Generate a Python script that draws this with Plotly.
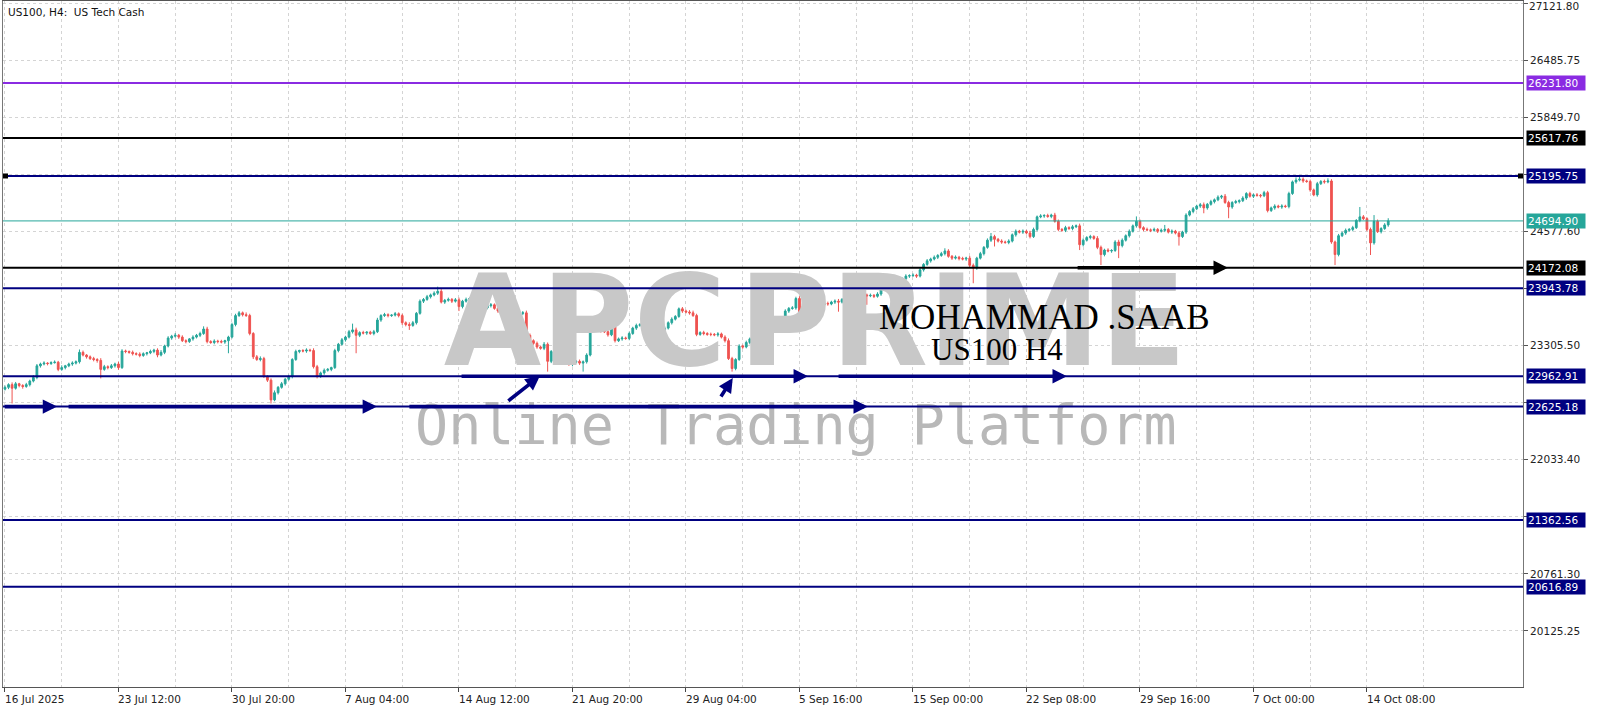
import plotly.graph_objects as go

# ---------------- data (H4 bars) ----------------
first_open = 22820
closes = [
    22840, 22870, 22830, 22880, 22860, 22850, 22870, 22910, 22950, 23080,
    23100, 23110, 23105, 23115, 23120, 23040, 23060, 23080, 23100, 23110,
    23125, 23230, 23200, 23180, 23160, 23150, 23140, 23040, 23070, 23060,
    23080, 23100, 23060, 23245, 23240, 23230, 23215, 23210, 23195, 23215,
    23225, 23240, 23255, 23200, 23230, 23300, 23390, 23410, 23420, 23400,
    23360, 23350, 23380, 23400, 23420, 23440, 23490, 23350, 23340, 23355,
    23350, 23345, 23360, 23400, 23540, 23640, 23670, 23650, 23640, 23440,
    23180, 23150, 23160, 22960, 22920, 22700, 22780, 22840, 22880, 22930,
    22960, 23150, 23240, 23250, 23245, 23255, 23250, 23070, 22960, 23000,
    23030, 23040, 23060, 23250, 23320, 23370, 23400, 23460, 23480, 23420,
    23450, 23445, 23455, 23440, 23460, 23590, 23640, 23650, 23640, 23645,
    23660, 23640, 23560, 23540, 23530, 23560, 23665, 23800, 23820, 23850,
    23870, 23890, 23910, 23790, 23810, 23820, 23800, 23815, 23740, 23800,
    23820, 23830, 23840, 23860, 23870, 23725, 23750, 23760, 23720, 23690,
    23700, 23705, 23690, 23670, 23680, 23665, 23670, 23420, 23360, 23330,
    23290, 23275, 23320, 23130, 23240, 23235, 23245, 23230, 23200, 23095,
    23120, 23130, 23110, 23125, 23200, 23510, 23500, 23480, 23470, 23460,
    23425, 23515, 23360, 23380, 23390, 23385, 23440, 23500, 23530, 23540,
    23535, 23530, 23540, 23545, 23465, 23480, 23500, 23560, 23600, 23630,
    23715, 23690, 23680, 23670, 23640, 23430, 23450, 23440, 23430, 23430,
    23425, 23435, 23400, 23360, 23160, 23050, 23150, 23300, 23290, 23340,
    23380, 23400, 23360, 23400, 23430, 23450, 23470, 23480, 23520, 23610,
    23690, 23720, 23725, 23830, 23630, 23720, 23740, 23735, 23745, 23740,
    23760, 23775, 23770, 23790, 23800, 23790, 23820, 23840, 23860, 23875,
    23890, 23930, 23870, 23860, 23865, 23855, 23880, 23960, 23990, 23995,
    23990, 24000, 24005, 24050, 24080, 24085, 24090, 24080, 24150, 24210,
    24250, 24270, 24290, 24310, 24330, 24360, 24300, 24280, 24290, 24275,
    24270, 24280, 24200, 24170, 24280, 24330, 24400, 24480, 24520, 24490,
    24470, 24460, 24455, 24470, 24540, 24580, 24570, 24580, 24560, 24520,
    24600, 24740, 24750, 24755, 24745, 24760, 24690, 24600, 24590, 24620,
    24610, 24630, 24640, 24430, 24480, 24510, 24520, 24500, 24400, 24320,
    24370, 24360, 24365, 24460, 24420, 24480, 24530, 24580, 24640, 24690,
    24620, 24600, 24595, 24590, 24600, 24580, 24590, 24600, 24570, 24580,
    24560, 24520, 24570, 24760, 24800, 24830, 24860, 24875, 24840, 24880,
    24910, 24930, 24960, 24970, 24900, 24850, 24900, 24910, 24920, 24950,
    25000, 24970, 24985, 24980, 24975, 25010, 24810, 24840, 24860, 24850,
    24860, 24855, 25000, 25130, 25150, 25160, 25140, 25135, 25040, 24985,
    25110, 25135, 25130, 25140, 24460, 24320, 24530, 24560, 24590, 24600,
    24620, 24700, 24740, 24720, 24600, 24450, 24690, 24575, 24610, 24650,
    24694.90,
]
wick_up = [
    20, 15, 25, 20, 10, 15, 20, 15, 25, 20,
    15, 20, 10, 15, 20, 15, 25, 10, 15, 20,
    15, 32, 20, 10, 15, 20, 15, 25, 20, 15,
    20, 15, 25, 20, 15, 10, 20, 15, 20, 15,
    10, 20, 15, 20, 25, 15, 20, 15, 25, 15,
    20, 15, 10, 20, 15, 20, 30, 25, 15, 20,
    15, 20, 10, 15, 20, 20, 20, 15, 25, 20,
    15, 20, 25, 20, 15, 20, 25, 15, 20, 15,
    20, 15, 20, 10, 15, 20, 15, 25, 20, 15,
    20, 15, 10, 20, 15, 20, 15, 20, 70, 25,
    15, 20, 10, 15, 20, 25, 15, 20, 15, 10,
    20, 15, 20, 15, 25, 20, 15, 20, 15, 20,
    15, 20, 52, 25, 15, 20, 15, 20, 25, 15,
    20, 15, 20, 15, 20, 25, 15, 20, 15, 20,
    15, 20, 15, 10, 20, 15, 20, 25, 20, 15,
    20, 15, 25, 20, 15, 20, 15, 20, 15, 25,
    20, 15, 20, 15, 20, 25, 15, 20, 15, 20,
    15, 20, 25, 15, 20, 15, 20, 15, 20, 15,
    20, 15, 20, 25, 20, 15, 20, 15, 20, 15,
    15, 20, 15, 20, 25, 20, 15, 20, 15, 20,
    15, 20, 15, 20, 25, 20, 15, 20, 15, 20,
    15, 20, 25, 15, 20, 15, 20, 15, 20, 15,
    20, 15, 20, 20, 25, 15, 20, 15, 20, 15,
    20, 15, 20, 15, 20, 25, 15, 20, 15, 20,
    15, 32, 20, 15, 20, 15, 20, 15, 20, 15,
    20, 15, 20, 15, 20, 15, 20, 15, 20, 15,
    20, 15, 20, 15, 20, 30, 20, 15, 20, 15,
    20, 15, 25, 20, 15, 20, 15, 20, 40, 20,
    15, 20, 15, 20, 15, 20, 15, 20, 15, 25,
    20, 15, 20, 15, 20, 15, 25, 20, 15, 20,
    15, 20, 15, 25, 20, 15, 20, 15, 25, 20,
    15, 20, 15, 20, 25, 20, 15, 20, 15, 55,
    20, 15, 20, 15, 20, 15, 20, 50, 15, 20,
    15, 20, 15, 20, 15, 20, 15, 20, 25, 15,
    20, 15, 20, 15, 25, 20, 15, 20, 15, 20,
    15, 20, 15, 20, 15, 20, 20, 15, 20, 15,
    20, 15, 20, 15, 30, 30, 20, 15, 20, 15,
    20, 15, 20, 30, 20, 15, 20, 15, 20, 15,
    20, 15, 110, 20, 15, 20, 70, 20, 15, 20,
    30,
]
wick_dn = [
    15, 20, 170, 15, 20, 25, 15, 20, 15, 20,
    20, 15, 20, 15, 10, 20, 15, 20, 15, 20,
    15, 20, 15, 20, 15, 20, 25, 100, 15, 20,
    15, 20, 25, 15, 20, 15, 20, 15, 20, 15,
    20, 15, 20, 25, 15, 20, 15, 20, 15, 20,
    15, 20, 15, 20, 15, 20, 15, 20, 15, 20,
    20, 15, 20, 140, 15, 20, 15, 20, 15, 20,
    25, 15, 20, 15, 20, 40, 15, 20, 15, 20,
    15, 20, 15, 20, 15, 20, 15, 20, 20, 15,
    20, 15, 20, 15, 20, 15, 20, 15, 20, 200,
    20, 15, 20, 15, 20, 15, 20, 15, 20, 15,
    15, 20, 25, 20, 50, 15, 20, 15, 20, 15,
    20, 15, 20, 15, 20, 15, 20, 15, 50, 20,
    15, 20, 15, 20, 15, 20, 15, 20, 15, 20,
    20, 15, 20, 15, 20, 15, 20, 25, 20, 15,
    20, 15, 20, 115, 20, 15, 20, 15, 20, 15,
    20, 15, 20, 95, 20, 15, 20, 15, 20, 15,
    20, 15, 20, 15, 20, 15, 20, 15, 20, 15,
    20, 15, 20, 15, 20, 15, 20, 15, 20, 15,
    15, 20, 15, 20, 15, 20, 15, 20, 15, 20,
    15, 20, 15, 20, 15, 35, 20, 15, 20, 15,
    20, 15, 67, 15, 20, 15, 20, 15, 20, 15,
    15, 20, 15, 20, 170, 15, 20, 15, 20, 15,
    20, 15, 20, 15, 20, 107, 15, 20, 15, 20,
    15, 20, 15, 100, 15, 20, 15, 20, 15, 20,
    15, 20, 15, 20, 15, 20, 15, 20, 15, 20,
    15, 20, 15, 20, 15, 20, 15, 20, 15, 20,
    15, 20, 20, 170, 20, 15, 20, 15, 20, 80,
    15, 20, 15, 20, 15, 20, 15, 20, 15, 20,
    15, 20, 15, 20, 15, 20, 15, 20, 15, 20,
    15, 20, 15, 60, 20, 15, 20, 15, 20, 117,
    20, 15, 20, 15, 140, 20, 15, 20, 15, 20,
    15, 20, 15, 20, 15, 20, 15, 20, 15, 20,
    15, 100, 15, 20, 15, 20, 15, 20, 60, 20,
    15, 20, 15, 20, 15, 125, 20, 15, 20, 15,
    20, 15, 20, 15, 20, 15, 20, 15, 20, 15,
    20, 15, 20, 15, 20, 15, 20, 15, 20, 15,
    20, 15, 20, 15, 20, 117, 20, 15, 20, 15,
    20, 15, 20, 15, 20, 135, 20, 15, 20, 15,
    20,
]
assert len(closes) == len(wick_up) == len(wick_dn), (len(closes), len(wick_up), len(wick_dn))

opens = [first_open] + closes[:-1]
highs = [max(o, c) + u for o, c, u in zip(opens, closes, wick_up)]
lows = [min(o, c) - d for o, c, d in zip(opens, closes, wick_dn)]
bars = list(range(len(closes)))

date_labels = ["16 Jul 2025", "23 Jul 12:00", "30 Jul 20:00", "7 Aug 04:00", "14 Aug 12:00",
               "21 Aug 20:00", "29 Aug 04:00", "5 Sep 16:00", "15 Sep 00:00", "22 Sep 08:00",
               "29 Sep 16:00", "7 Oct 00:00", "14 Oct 08:00"]
date_label_bars = [0, 32, 64, 96, 128, 160, 192, 224, 256, 288, 320, 352, 384]

price_ticks = [20125.25, 20761.30, 21397.35, 22033.40, 22669.45, 23305.50,
               23941.55, 24577.60, 25213.65, 25849.70, 26485.75, 27121.80]
# the top label is drawn as an annotation (it sits at the very edge of the page)
price_tick_shown = [True, True, False, True, False, True, False, True, False, True, True, False]
top_tick_label = price_ticks[-1]

level_prices = [26231.80, 25617.76, 25195.75, 24694.90, 24172.08, 23943.78,
                22962.91, 22625.18, 21362.56, 20616.89]
level_colors = ["#8A2BE2", "#000000", "#000080", "#26A69A", "#000000", "#000080",
                "#000080", "#000080", "#000080", "#000080"]
level_widths = [2, 2, 2, 1, 2, 2, 2, 2, 2, 2]

# arrows: (tail bar, tail price, head bar, head price, colour)
arrows = [
    (-0.5, 22625.18, 14.7, 22625.18, "#000080"),
    (17.5, 22625.18, 104.9, 22625.18, "#000080"),
    (113.6, 22625.18, 243.3, 22625.18, "#000080"),
    (128.3, 22962.91, 226.4, 22962.91, "#000080"),
    (141.5, 22676.0, 150.8, 22966.0, "#000080"),
    (201.6, 22721.0, 205.2, 22944.0, "#000080"),
    (234.6, 22962.91, 299.4, 22962.91, "#000080"),
    (302.0, 24172.08, 344.8, 24172.08, "#000000"),
]

X_RANGE = [-0.56, 428.0]
Y_RANGE = [19500.0, 27146.0]
AXFONT = "DejaVu Sans"

fig = go.Figure()

# watermark (drawn first so it sits beneath the candles)
fig.add_trace(go.Scatter(
    x=[228.4], y=[23445], mode="text", text=["APC\u200aPRIME"],
    textposition="middle center", hoverinfo="skip", showlegend=False,
    textfont=dict(family="DejaVu Sans", size=126, color="#c8c8c8", weight="bold"),
))
fig.add_trace(go.Scatter(
    x=[223], y=[22364], mode="text", text=["Online Trading Platform"],
    textposition="middle center", hoverinfo="skip", showlegend=False,
    textfont=dict(family="DejaVu Sans Mono", size=55, color="#b8b8b8"),
))

fig.add_trace(go.Candlestick(
    x=bars, open=opens, high=highs, low=lows, close=closes,
    increasing=dict(line=dict(color="#26A69A", width=1), fillcolor="#26A69A"),
    decreasing=dict(line=dict(color="#EF5350", width=1), fillcolor="#EF5350"),
    whiskerwidth=0, showlegend=False, hoverinfo="skip",
))

shapes = []
for p, c, w in zip(level_prices, level_colors, level_widths):
    shapes.append(dict(type="line", xref="paper", x0=0, x1=1, yref="y", y0=p, y1=p,
                       line=dict(color=c, width=w), layer="above"))
# small squares at the ends of the 25195.75 line
for xa, x0, x1 in [(0, 0, 5), (1, -5, 0)]:
    shapes.append(dict(type="rect", xref="paper", xsizemode="pixel", xanchor=xa, x0=x0, x1=x1,
                       yref="y", ysizemode="pixel", yanchor=level_prices[2], y0=-2.5, y1=2.5,
                       fillcolor="#000000", line=dict(width=0), layer="above"))

annotations = []
# top price-scale label
annotations.append(dict(xref="paper", x=1, xanchor="left", xshift=4, yref="paper", y=1,
                        yanchor="top", yshift=3, text=f"{top_tick_label:.2f}", showarrow=False,
                        font=dict(family=AXFONT, size=10.5, color="#222222")))
# price labels on the right axis
for p, c in zip(level_prices, level_colors):
    annotations.append(dict(xref="paper", x=1, xanchor="left", xshift=3, yref="y", y=p,
                            yanchor="middle", text=f"{p:.2f}", showarrow=False,
                            bgcolor=c, font=dict(family=AXFONT, size=10.5, color="#ffffff"),
                            width=56, height=12, borderpad=1, align="left"))
# date labels
for b, t in zip(date_label_bars, date_labels):
    annotations.append(dict(xref="x", x=b, xanchor="left", xshift=-2, yref="paper", y=0,
                            yanchor="middle", yshift=-12, text=t, showarrow=False,
                            font=dict(family=AXFONT, size=10.5, color="#222222")))
# arrows
for tx, ty, hx, hy, c in arrows:
    annotations.append(dict(x=hx, y=hy, xref="x", yref="y", ax=tx, ay=ty, axref="x", ayref="y",
                            text="", showarrow=True, arrowhead=2, arrowsize=0.8,
                            arrowwidth=3.6, arrowcolor=c, standoff=0))
# title & author texts
annotations.append(dict(xref="paper", x=0, xanchor="left", xshift=3, yref="paper", y=1,
                        yanchor="top", yshift=-3, text="US100, H4:  US Tech Cash",
                        showarrow=False, font=dict(family=AXFONT, size=10.5, color="#111111")))
annotations.append(dict(xref="x", x=293.2, yref="y", y=23614, text="MOHAMMAD .SAAB",
                        showarrow=False, font=dict(family="Liberation Serif", size=35, color="#000000")))
annotations.append(dict(xref="x", x=279.8, yref="y", y=23257, text="US100 H4",
                        showarrow=False, font=dict(family="Liberation Serif", size=31, color="#000000")))

fig.update_layout(
    width=1600, height=711,
    margin=dict(l=3, r=77, t=1, b=24),
    paper_bgcolor="#ffffff", plot_bgcolor="#ffffff",
    showlegend=False,
    shapes=shapes, annotations=annotations,
    xaxis=dict(range=X_RANGE, rangeslider=dict(visible=False), tickmode="array",
               tickvals=date_label_bars, showticklabels=False, ticks="outside", ticklen=4,
               tickcolor="#444444", showgrid=True, gridcolor="#d4d4d4", griddash="dot",
               gridwidth=1, zeroline=False, showline=True, mirror=True, linecolor="#555555",
               linewidth=1, fixedrange=True,
               minor=dict(tickmode="linear", tick0=16, dtick=32, showgrid=True,
                          gridcolor="#d4d4d4", griddash="dot", ticks="")),
    yaxis=dict(range=Y_RANGE, side="right", tickmode="array", tickvals=price_ticks,
               ticktext=[f"{v:.2f}" if s else "" for v, s in zip(price_ticks, price_tick_shown)],
               ticks="outside", ticklen=4, tickcolor="#555555",
               tickfont=dict(family=AXFONT, size=10.5, color="#222222"),
               showgrid=True, gridcolor="#d4d4d4", griddash="dot", gridwidth=1,
               zeroline=False, showline=True, mirror=True, linecolor="#777777", linewidth=1,
               fixedrange=True),
)

fig.write_html("out.html", config={"displayModeBar": False},
               post_script="document.body.style.margin='0px';")
